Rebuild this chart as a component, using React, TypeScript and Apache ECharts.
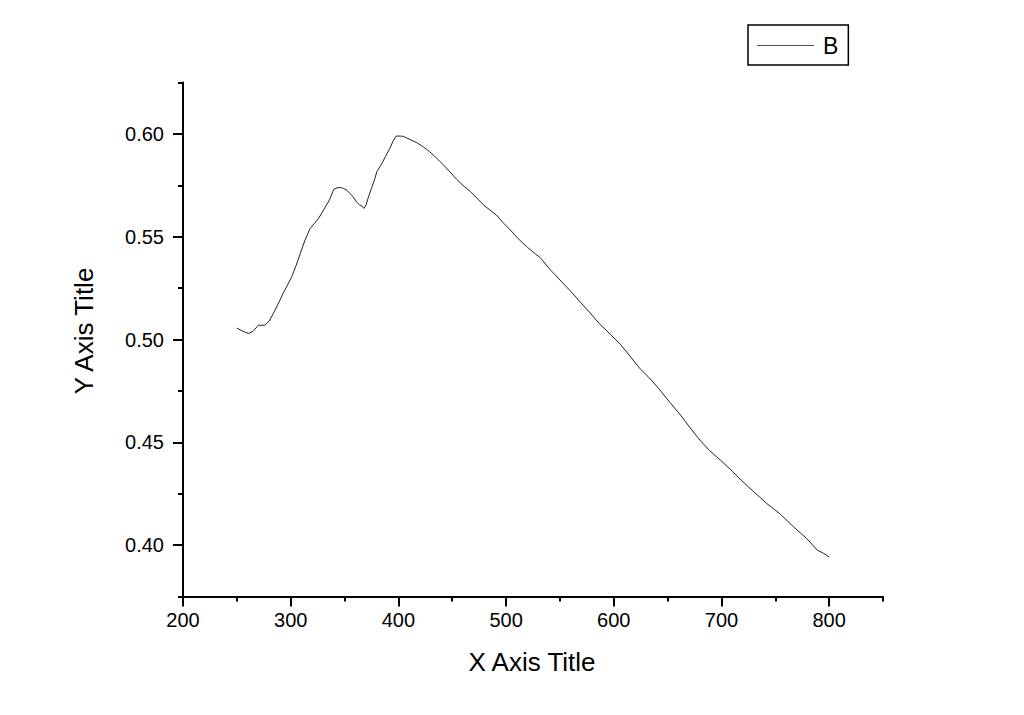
import React, { useEffect, useRef } from "react";
import * as echarts from "echarts";

const xValues = [250, 254, 258, 261, 265, 270, 276, 280, 284, 288, 293, 297, 301, 305, 309, 313, 318, 322, 326, 331, 336, 340, 343, 346, 349, 352, 355, 358, 361, 364, 366, 368, 370, 372, 375, 378, 380, 384, 388, 392, 395, 398, 402, 405, 410, 417, 423, 429, 436, 442, 448, 454, 460, 467, 473, 479, 485, 491, 497, 504, 511, 520, 532, 541, 550, 560, 569, 578, 587, 597, 606, 615, 624, 634, 643, 652, 662, 671, 680, 689, 699, 710, 720, 730, 742, 754, 767, 779, 789, 795, 800];
const yValues = [0.5056, 0.5045, 0.5035, 0.503, 0.504, 0.507, 0.507, 0.509, 0.5128, 0.517, 0.5225, 0.5265, 0.5306, 0.536, 0.542, 0.548, 0.554, 0.5565, 0.559, 0.5635, 0.5679, 0.5731, 0.5738, 0.574, 0.5735, 0.5727, 0.571, 0.5695, 0.567, 0.5655, 0.565, 0.5638, 0.5655, 0.569, 0.5736, 0.578, 0.5817, 0.585, 0.589, 0.593, 0.5965, 0.599, 0.599, 0.5988, 0.5975, 0.5958, 0.5938, 0.5914, 0.588, 0.5849, 0.5815, 0.578, 0.575, 0.5719, 0.5688, 0.5655, 0.563, 0.5606, 0.557, 0.5533, 0.5492, 0.5448, 0.5397, 0.534, 0.529, 0.5235, 0.5182, 0.513, 0.5075, 0.5025, 0.4978, 0.492, 0.4861, 0.4808, 0.4754, 0.4695, 0.4633, 0.457, 0.4511, 0.446, 0.4414, 0.436, 0.4308, 0.426, 0.4203, 0.4154, 0.4089, 0.4033, 0.3976, 0.396, 0.3943];

const xTickLabels = [200, 300, 400, 500, 600, 700, 800];
const yTickLabels = [0.4, 0.45, 0.5, 0.55, 0.6];
const seriesName = "B";
const xTitle = "X Axis Title";
const yTitle = "Y Axis Title";

const FONT = "'Liberation Sans', Arial, sans-serif";

export default function App() {
  const ref = useRef<HTMLDivElement>(null);
  useEffect(() => {
    if (!ref.current) return;
    const chart = echarts.init(ref.current, null, { renderer: "svg" });
    const axisColor = "#000";
    chart.setOption({
      animation: false,
      backgroundColor: "#fff",
      textStyle: { fontFamily: FONT },
      grid: { left: 183, right: 141, top: 82.6, bottom: 118.4, containLabel: false },
      legend: {
        left: 748,
        top: 25,
        orient: "vertical",
        data: [{ name: seriesName, icon: "rect" }],
        itemWidth: 57,
        itemHeight: 1,
        padding: [9, 10, 8, 9],
        borderColor: "#000",
        borderWidth: 1.5,
        borderRadius: 0,
        backgroundColor: "#fff",
        itemStyle: { color: "#555", borderWidth: 0 },
        textStyle: { fontSize: 23, color: "#000", fontFamily: FONT, padding: [0, 0, 0, 4] },
      },
      xAxis: [
        {
          type: "value",
          min: 200,
          max: 850,
          position: "bottom",
          axisLine: { show: true, lineStyle: { color: axisColor, width: 2 } },
          axisTick: { show: true, customValues: xTickLabels, length: 10, lineStyle: { color: axisColor, width: 2 } },
          axisLabel: { customValues: xTickLabels, margin: 13, fontSize: 20, color: "#000", fontFamily: FONT },
          splitLine: { show: false },
        },
        {
          type: "value",
          min: 200,
          max: 850,
          interval: 50,
          position: "bottom",
          axisLine: { show: false },
          axisTick: { show: true, length: 5, lineStyle: { color: axisColor, width: 2 } },
          axisLabel: { show: false },
          splitLine: { show: false },
        },
      ],
      yAxis: [
        {
          type: "value",
          min: 0.375,
          max: 0.625,
          position: "left",
          axisLine: { show: true, lineStyle: { color: axisColor, width: 2 } },
          axisTick: { show: true, customValues: yTickLabels, length: 10, lineStyle: { color: axisColor, width: 2 } },
          axisLabel: {
            customValues: yTickLabels,
            margin: 19,
            fontSize: 20,
            color: "#000",
            fontFamily: FONT,
            formatter: (v: number) => v.toFixed(2),
          },
          splitLine: { show: false },
        },
        {
          type: "value",
          min: 0.375,
          max: 0.625,
          interval: 0.025,
          position: "left",
          axisLine: { show: false },
          axisTick: { show: true, length: 5, lineStyle: { color: axisColor, width: 2 } },
          axisLabel: { show: false },
          splitLine: { show: false },
        },
      ],
      graphic: [
        {
          type: "text",
          x: 532,
          y: 662,
          style: {
            text: xTitle,
            fontSize: 26,
            fontFamily: FONT,
            fill: "#000",
            align: "center",
            verticalAlign: "middle",
          },
        },
        {
          type: "text",
          x: 84,
          y: 331,
          rotation: Math.PI / 2,
          style: {
            text: yTitle,
            fontSize: 26,
            fontFamily: FONT,
            fill: "#000",
            align: "center",
            verticalAlign: "middle",
          },
        },
      ],
      series: [
        {
          name: seriesName,
          type: "line",
          xAxisIndex: 0,
          yAxisIndex: 0,
          showSymbol: false,
          symbol: "none",
          lineStyle: { color: "#222", width: 1 },
          itemStyle: { color: "#555" },
          data: xValues.map((x, i) => [x, yValues[i]]),
        },
      ],
    });
    return () => chart.dispose();
  }, []);
  return (
    <div
      ref={ref}
      style={{ position: "absolute", left: 0, top: 0, width: 1024, height: 715 }}
    />
  );
}
